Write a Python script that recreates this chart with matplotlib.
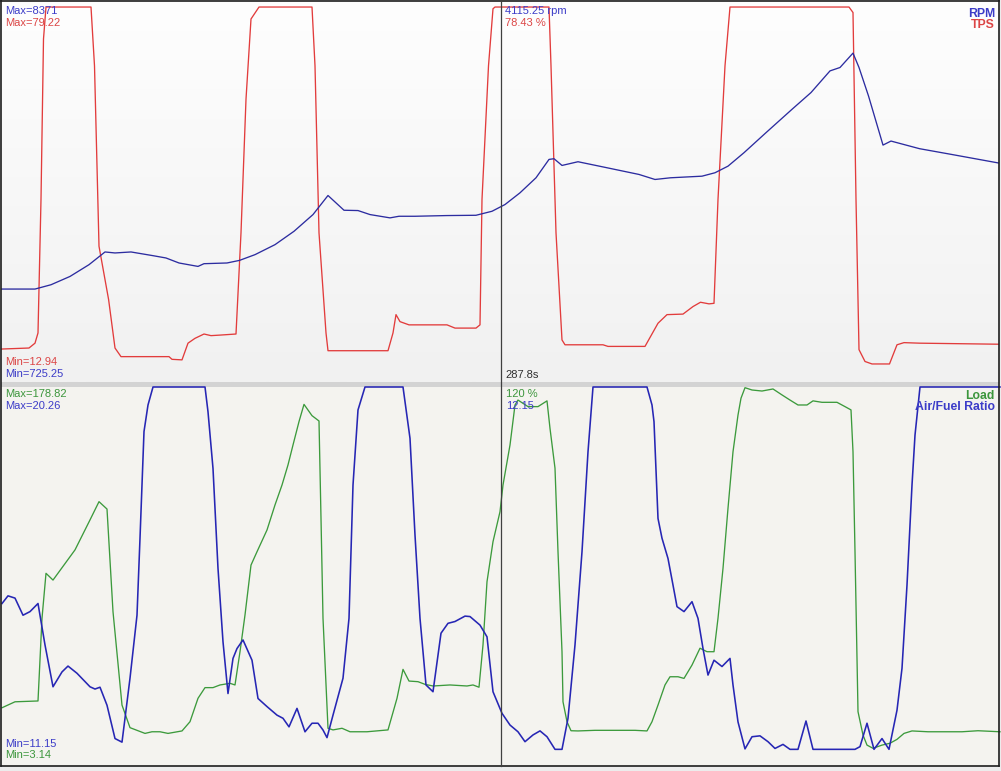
import matplotlib
matplotlib.use("Agg")
import matplotlib.pyplot as plt
from matplotlib.lines import Line2D
from matplotlib.patches import Rectangle
from matplotlib.colors import LinearSegmentedColormap
import numpy as np

# ---------------- data (time in s, values in units) ----------------
tps_t = [237.7, 240.6, 241.2, 241.5, 241.8, 242.05, 242.3, 246.8, 247.15, 247.6, 248.56, 249.2,
         249.8, 254.6, 254.9, 255.9, 256.5, 257.2, 258.1, 258.8, 259.7, 261.3, 261.8, 262.3,
         262.8, 263.6, 268.9, 269.2, 269.6, 270.3, 270.5, 276.5, 277.0, 277.3, 277.7, 278.6,
         282.4, 283.2, 285.3, 285.7, 285.9, 286.55, 287.0, 287.2, 292.6, 292.8, 293.3, 293.9,
         294.2, 298.0, 298.5, 302.2, 303.5, 304.4, 306.0, 307.0, 307.75, 308.6, 309.1, 309.5,
         310.2, 310.7, 322.6, 323.0, 323.3, 323.6, 324.2, 324.9, 326.65, 327.4, 328.1, 329.65,
         337.8]
tps_v = [15.7, 15.9, 16.8, 18.7, 43.5, 73.3, 79.22, 79.22, 68.3, 34.8, 24.9, 15.9,
         14.3, 14.3, 13.8, 13.7, 16.8, 17.7, 18.5, 18.2, 18.3, 18.5, 37.3, 62.1,
         77.0, 79.22, 79.22, 68.3, 37.3, 18.7, 15.4, 15.4, 18.7, 22.1, 20.8, 20.2,
         20.2, 19.6, 19.6, 20.2, 43.5, 68.3, 78.9, 79.22, 79.22, 68.3, 37.3, 17.4,
         16.5, 16.5, 16.2, 16.2, 20.5, 22.1, 22.2, 23.6, 24.4, 24.1, 24.2, 43.5,
         68.3, 79.22, 79.22, 78.2, 43.5, 15.6, 13.4, 12.94, 12.94, 16.5, 16.9, 16.8,
         16.6]

rpm_t = [237.7, 241.2, 242.8, 244.7, 246.6, 248.2, 249.2, 250.8, 253.0, 254.3, 255.6, 257.5,
         258.1, 260.4, 261.65, 263.2, 265.2, 267.1, 269.0, 270.5, 272.1, 273.5, 274.7, 276.7,
         277.6, 279.2, 282.4, 285.3, 286.9, 288.2, 289.7, 291.3, 292.6, 293.1, 293.9, 295.5,
         298.4, 301.6, 303.2, 304.75, 307.9, 309.2, 310.5, 312.1, 314.3, 316.9, 318.8, 320.7,
         321.7, 323.0, 323.6, 324.55, 326.0, 326.8, 329.65, 332.85, 337.8]
rpm_v = [725, 725, 865, 1134, 1515, 1927, 1895, 1927, 1807, 1732, 1570, 1459,
         1547, 1570, 1654, 1840, 2164, 2597, 3139, 3757, 3279, 3269, 3139, 3032,
         3084, 3084, 3107, 3116, 3246, 3464, 3844, 4331, 4926, 4949, 4731, 4851,
         4656, 4439, 4276, 4331, 4383, 4494, 4708, 5144, 5793, 6550, 7093, 7795,
         7905, 8371, 7905, 6983, 5391, 5521, 5274, 5088, 4796]

load_t = [237.9, 239.2, 241.5, 241.9, 242.3, 243.0, 245.2, 246.7, 247.6, 248.4, 249.0, 249.9,
          250.7, 252.2, 252.9, 253.7, 254.5, 255.9, 256.7, 257.5, 258.2, 259.0, 259.7, 260.7,
          261.2, 261.7, 262.2, 262.8, 263.4, 264.4, 265.2, 265.9, 266.5, 267.0, 267.6, 268.1,
          268.9, 269.6, 269.8, 270.0, 270.5, 271.0, 271.9, 272.7, 274.4, 276.5, 277.4, 278.0,
          278.6, 279.5, 280.2, 281.0, 282.7, 284.4, 285.0, 285.6, 286.0, 286.4, 287.0, 287.7,
          288.0, 288.7, 289.2, 289.5, 290.5, 291.5, 292.4, 292.7, 293.2, 293.5, 293.9, 294.0,
          294.4, 294.8, 295.5, 297.2, 301.2, 302.4, 302.9, 303.5, 304.2, 304.7, 305.5, 306.1,
          306.9, 307.7, 308.4, 309.1, 309.5, 310.0, 310.5, 311.0, 311.5, 311.8, 312.2, 312.9,
          313.9, 315.0, 315.9, 316.7, 317.5, 318.4, 319.0, 319.9, 321.4, 322.2, 322.8, 323.0,
          323.2, 323.5, 324.0, 324.4, 325.0, 325.9, 326.7, 327.4, 328.1, 328.9, 330.5, 333.9,
          335.5, 337.7]
load_v = [22.9, 25.8, 26.2, 66.5, 88.4, 85.1, 99.8, 114.4, 123.3, 119.7, 69.7, 24.2,
          13.2, 10.4, 11.2, 11.2, 10.4, 11.6, 16.1, 27.5, 32.7, 32.7, 34.0, 34.8,
          34.0, 50.2, 68.1, 92.4, 98.9, 109.5, 121.7, 131.4, 141.2, 150.9, 162.3, 170.7,
          165.2, 162.6, 115.2, 66.5, 12.9, 12.1, 12.9, 11.2, 11.2, 12.1, 27.5, 41.6,
          35.9, 35.6, 34.3, 33.5, 34.0, 33.5, 34.0, 32.9, 53.5, 84.3, 103.8, 118.4,
          131.4, 150.9, 170.4, 172.8, 169.6, 169.6, 172.4, 159.0, 139.6, 98.9, 50.2, 25.8,
          16.1, 11.7, 11.6, 11.9, 11.9, 11.6, 16.1, 24.2, 34.0, 38.0, 38.0, 37.2,
          43.7, 51.9, 50.2, 50.2, 66.5, 90.8, 120.1, 147.6, 165.5, 173.7, 178.82, 177.7,
          177.2, 178.2, 175.3, 172.8, 170.4, 170.4, 172.4, 171.7, 171.7, 169.6, 168.0, 147.6,
          98.9, 21.0, 9.6, 4.7, 3.14, 4.7, 5.6, 7.5, 10.4, 11.6, 11.2, 11.2,
          11.7, 11.2]

afr_t = [237.9, 238.5, 239.2, 240.0, 240.7, 241.5, 242.2, 243.0, 243.9, 244.5, 245.4, 246.7,
         247.2, 247.7, 248.4, 249.2, 249.9, 250.2, 250.7, 251.4, 251.7, 252.1, 252.5, 253.0,
         258.2, 258.5, 259.0, 259.5, 260.0, 260.5, 261.0, 261.4, 262.0, 262.9, 263.5, 264.4,
         265.4, 266.0, 266.6, 267.4, 268.2, 268.9, 269.5, 270.0, 270.4, 271.0, 272.0, 272.6,
         273.0, 273.5, 274.2, 278.0, 278.7, 279.2, 279.7, 280.3, 281.0, 281.8, 282.5, 283.2,
         284.2, 284.7, 285.7, 286.4, 287.0, 287.9, 288.7, 289.5, 290.2, 291.0, 291.7, 292.4,
         293.2, 293.9, 294.5, 295.2, 295.9, 296.5, 297.0, 302.4, 302.9, 303.1, 303.5, 303.9,
         304.5, 305.0, 305.4, 306.1, 306.9, 307.5, 308.0, 308.5, 309.1, 309.9, 310.7, 311.0,
         311.5, 312.2, 312.9, 313.7, 314.5, 315.2, 316.0, 316.7, 317.5, 318.3, 319.0, 323.2,
         323.7, 324.4, 325.1, 325.9, 326.6, 327.4, 327.9, 328.4, 328.9, 329.2, 329.7, 337.7]
afr_v = [14.39, 14.56, 14.51, 14.13, 14.21, 14.39, 13.47, 12.54, 12.87, 13.00, 12.84, 12.54,
         12.49, 12.53, 12.13, 11.39, 11.31, 11.84, 12.73, 14.13, 15.84, 18.21, 18.80, 19.2,
         19.2, 18.65, 17.39, 15.17, 13.54, 12.39, 13.17, 13.39, 13.58, 13.13, 12.28, 12.10,
         11.91, 11.84, 11.65, 12.06, 11.54, 11.73, 11.73, 11.58, 11.41, 11.91, 12.73, 14.06,
         17.02, 18.69, 19.2, 19.2, 18.06, 15.91, 14.06, 12.58, 12.43, 13.73, 13.95, 13.99,
         14.11, 14.10, 13.91, 13.65, 12.43, 11.95, 11.69, 11.54, 11.32, 11.47, 11.56, 11.43,
         11.15, 11.15, 11.84, 13.47, 15.54, 17.76, 19.2, 19.2, 18.80, 18.43, 16.28, 15.84,
         15.39, 14.80, 14.32, 14.21, 14.43, 14.06, 13.39, 12.80, 13.13, 12.99, 13.17, 12.58,
         11.76, 11.16, 11.43, 11.45, 11.32, 11.17, 11.26, 11.15, 11.15, 11.78, 11.15, 11.15,
         11.21, 11.73, 11.15, 11.39, 11.15, 12.02, 12.95, 14.80, 17.02, 18.13, 19.2, 19.2]

cursor_t = 287.8
top_labels = ["Max=8371", "Max=79.22", "Min=12.94", "Min=725.25"]
bot_labels = ["Max=178.82", "Max=20.26", "Min=11.15", "Min=3.14"]
cursor_top = ["4115.25 rpm", "78.43 %"]
cursor_bot = ["120 %", "12.15"]
cursor_time = "287.8s"
legend_top = ["RPM", "TPS"]
legend_bot = ["Load", "Air/Fuel Ratio"]

# ---------------- styling ----------------
plt.rcParams["font.family"] = ["Liberation Sans", "DejaVu Sans"]
W, H = 1001, 771
BLUE_T = "#3c3cc8"
RED_T = "#dc4646"
GREEN_T = "#3c963c"
RED_L = "#e23c3c"
BLUE_L = "#2c2ca0"
BLUE_B = "#2626b4"
GREEN_L = "#3c9a3c"

fig = plt.figure(figsize=(W / 100, H / 100), dpi=100, facecolor="#ececec")


def fx(x):
    return x / W


def fy(y):
    return 1 - y / H


ax_top = fig.add_axes([fx(1), fy(382), fx(999) - fx(1), fy(1) - fy(382)])
ax_bot = fig.add_axes([fx(1), fy(766), fx(999) - fx(1), fy(387) - fy(766)])

# backgrounds (light at top, slightly grey at bottom)
grad = np.linspace(0, 1, 256).reshape(-1, 1)
cm_top = LinearSegmentedColormap.from_list("g", ["#fefefe", "#f1f1f1"])
ax_top.imshow(grad, extent=[0, 1, 0, 1], transform=ax_top.transAxes, aspect="auto",
              cmap=cm_top, origin="upper", zorder=0)
ax_bot.set_facecolor("#f4f3ef")

xlim = (237.8, 337.6)
ax_rpm = ax_top.twinx()
ax_afr = ax_bot.twinx()
for a in (ax_top, ax_rpm, ax_bot, ax_afr):
    a.set_xlim(*xlim)
    a.set_xticks([])
    a.set_yticks([])
    for s in a.spines.values():
        s.set_visible(False)

ax_top.set_ylim(9.59, 80.34)
ax_rpm.set_ylim(-2287, 10060)
ax_bot.set_ylim(-5.48, 179.16)
ax_afr.set_ylim(10.78, 19.2)

ax_rpm.plot(rpm_t, rpm_v, color=BLUE_L, lw=0.95, zorder=2)
ax_top.plot(tps_t, tps_v, color=RED_L, lw=0.95, zorder=3)
ax_bot.plot(load_t, load_v, color=GREEN_L, lw=0.95, zorder=2, clip_on=False)
ax_afr.plot(afr_t, afr_v, color=BLUE_B, lw=1.15, zorder=3, clip_on=False)

# separator band
fig.patches.append(Rectangle((fx(1), fy(387)), fx(999) - fx(1), fy(382) - fy(387),
                             transform=fig.transFigure, facecolor="#d3d3d3",
                             edgecolor="none", zorder=-1))

# border
bc = "#1e1e1e"
for xs, ys in [((1, 999), (0.5, 0.5)), ((1, 1), (0, 766)), ((999, 999), (0, 766)),
               ((1, 999), (766, 766))]:
    fig.add_artist(Line2D([fx(xs[0]), fx(xs[1])], [fy(ys[0]), fy(ys[1])],
                          transform=fig.transFigure, color=bc, lw=1.2))

# cursor line
cx = fx(1) + (cursor_t - xlim[0]) / (xlim[1] - xlim[0]) * (fx(999) - fx(1))
fig.add_artist(Line2D([cx, cx], [fy(1), fy(766)], transform=fig.transFigure,
                      color="#404040", lw=0.9))


def txt(x, y, s, color, size=8, ha="left", weight="normal"):
    # y is the text baseline in pixels from the top
    fig.text(fx(x), fy(y), s, color=color, fontsize=size, ha=ha, va="baseline",
             fontweight=weight)


# top panel labels
txt(5, 13.5, top_labels[0], BLUE_T)
txt(5, 25.5, top_labels[1], RED_T)
txt(5, 365, top_labels[2], RED_T)
txt(5, 377, top_labels[3], BLUE_T)
txt(505, 13.5, cursor_top[0], BLUE_T)
txt(505, 25.5, cursor_top[1], RED_T)
txt(995, 17, legend_top[0], BLUE_T, size=8.8, ha="right", weight="bold")
txt(995, 27.5, legend_top[1], RED_T, size=8.8, ha="right", weight="bold")
txt(505, 378.5, cursor_time, "#303030")

# bottom panel labels
txt(5, 397, bot_labels[0], GREEN_T)
txt(5, 409, bot_labels[1], BLUE_T)
txt(5, 747, bot_labels[2], BLUE_T)
txt(5, 758.5, bot_labels[3], GREEN_T)
txt(506, 397, cursor_bot[0], GREEN_T)
txt(506, 409, cursor_bot[1], BLUE_T)
txt(995, 399, legend_bot[0], GREEN_T, size=8.8, ha="right", weight="bold")
txt(995, 410.5, legend_bot[1], BLUE_T, size=8.8, ha="right", weight="bold")

fig.savefig("out.png", dpi=100, facecolor=fig.get_facecolor())
